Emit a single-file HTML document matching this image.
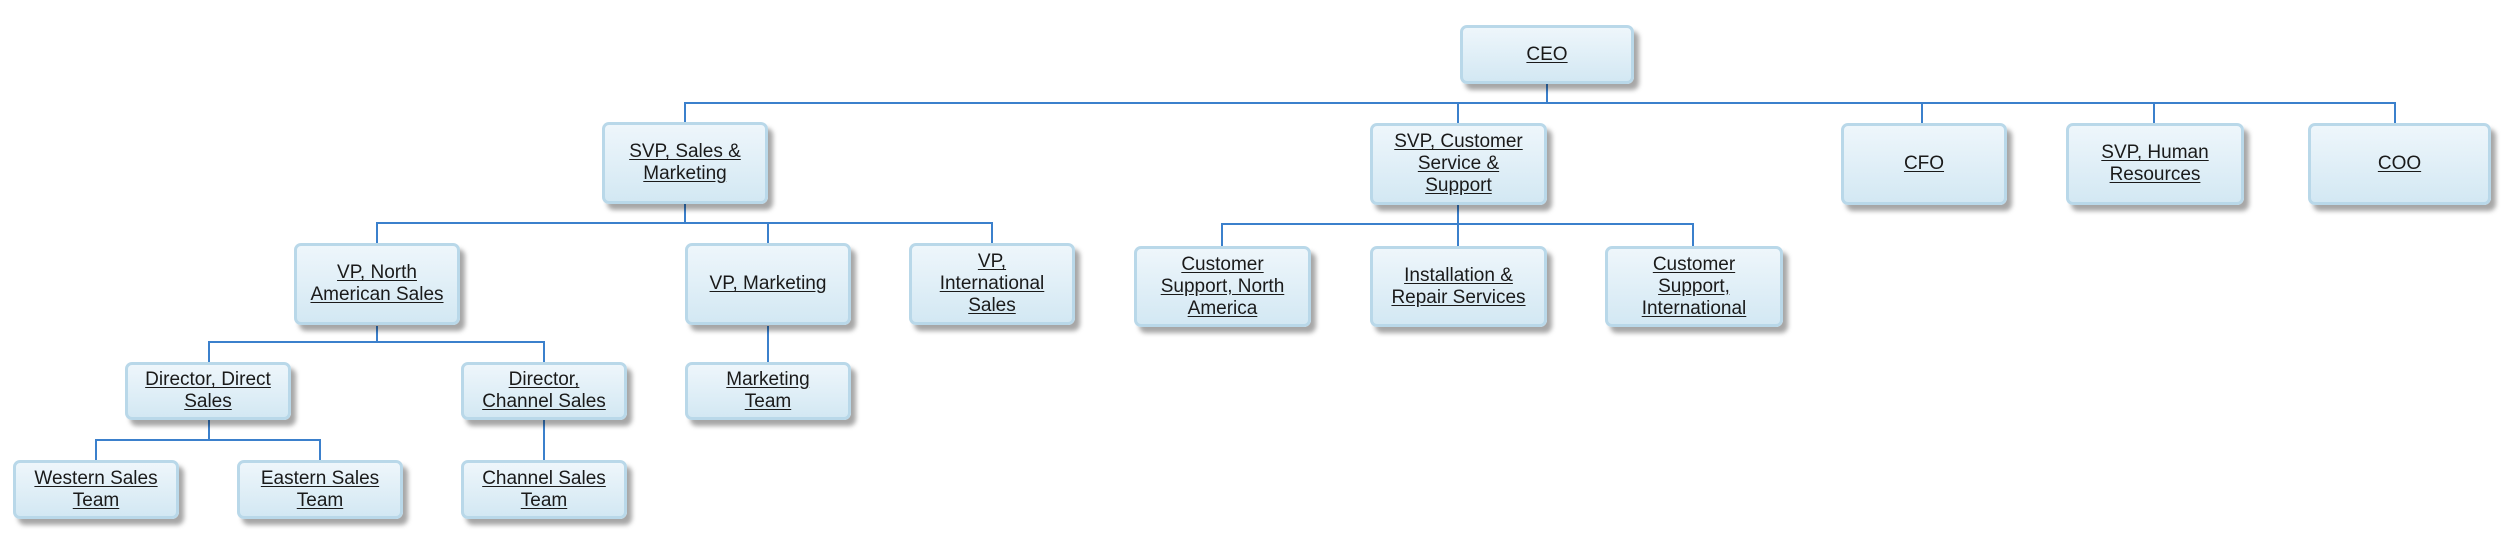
<!DOCTYPE html>
<html><head><meta charset="utf-8"><style>
html,body{margin:0;padding:0;background:#fff;}
body{width:2510px;height:554px;position:relative;overflow:hidden;font-family:"Liberation Sans",Arial,sans-serif;}
.b{position:absolute;box-sizing:border-box;border:3px solid #b9d8e9;border-radius:7px;
background:linear-gradient(#eef6fb,#d3e8f3);box-shadow:5px 6px 5px rgba(0,0,0,0.35);
display:flex;align-items:center;justify-content:center;text-align:center;}
.b span{font-size:19px;line-height:22px;color:#1a1a1a;text-decoration:underline;text-underline-offset:2px;padding:0 6px;}
svg{position:absolute;left:0;top:0;}
</style></head><body>
<svg width="2510" height="554">
<g stroke="#3b80cc" stroke-width="2" fill="none">
<path d="M1547 84V103M685 122V103H2395V123M1458 103V123M1922 103V123M2154 103V123"/>
<path d="M685 204V223M377 243V223H992V243M768 223V243"/>
<path d="M1458 205V224M1222 246V224H1693V246M1458 224V246"/>
<path d="M377 326V342M209 362V342H544V362"/>
<path d="M768 326V362"/>
<path d="M209 420V440M96 460V440H320V460"/>
<path d="M544 420V460"/>
</g></svg>
<div class="b" style="left:1460px;top:25px;width:174px;height:59px"><span>CEO</span></div>
<div class="b" style="left:602px;top:122px;width:166px;height:82px"><span>SVP, Sales &amp;<br>Marketing</span></div>
<div class="b" style="left:1370px;top:123px;width:177px;height:82px"><span>SVP, Customer<br>Service &amp;<br>Support</span></div>
<div class="b" style="left:1841px;top:123px;width:166px;height:82px"><span>CFO</span></div>
<div class="b" style="left:2066px;top:123px;width:178px;height:82px"><span>SVP, Human<br>Resources</span></div>
<div class="b" style="left:2308px;top:123px;width:183px;height:82px"><span>COO</span></div>
<div class="b" style="left:294px;top:243px;width:166px;height:82px"><span>VP, North<br>American Sales</span></div>
<div class="b" style="left:685px;top:243px;width:166px;height:82px"><span>VP, Marketing</span></div>
<div class="b" style="left:909px;top:243px;width:166px;height:82px"><span>VP,<br>International<br>Sales</span></div>
<div class="b" style="left:1134px;top:246px;width:177px;height:81px"><span>Customer<br>Support, North<br>America</span></div>
<div class="b" style="left:1370px;top:246px;width:177px;height:81px"><span>Installation &amp;<br>Repair Services</span></div>
<div class="b" style="left:1605px;top:246px;width:178px;height:81px"><span>Customer<br>Support,<br>International</span></div>
<div class="b" style="left:125px;top:362px;width:166px;height:58px"><span>Director, Direct<br>Sales</span></div>
<div class="b" style="left:461px;top:362px;width:166px;height:58px"><span>Director,<br>Channel Sales</span></div>
<div class="b" style="left:685px;top:362px;width:166px;height:58px"><span>Marketing<br>Team</span></div>
<div class="b" style="left:13px;top:460px;width:166px;height:59px"><span>Western Sales<br>Team</span></div>
<div class="b" style="left:237px;top:460px;width:166px;height:59px"><span>Eastern Sales<br>Team</span></div>
<div class="b" style="left:461px;top:460px;width:166px;height:59px"><span>Channel Sales<br>Team</span></div>
</body></html>
